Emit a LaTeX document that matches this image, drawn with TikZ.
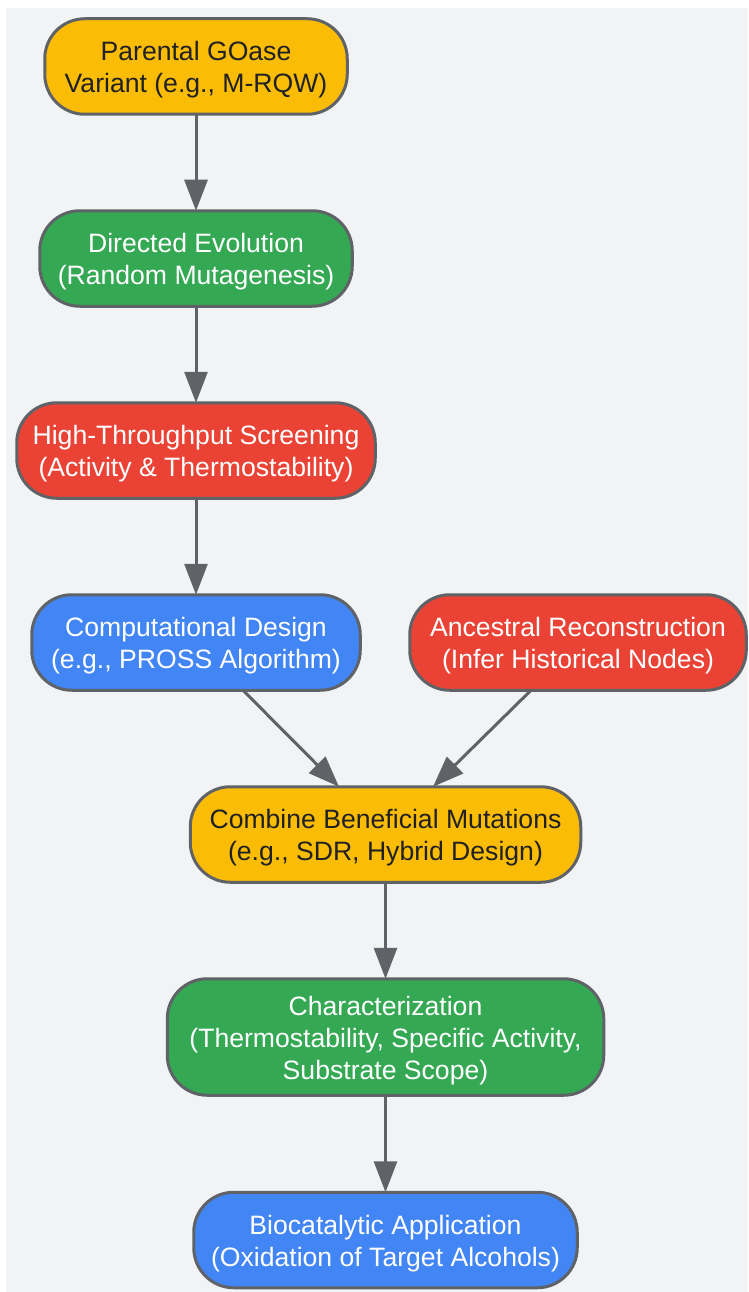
\documentclass[tikz,border=0pt]{standalone}
\usepackage{fontspec}
\setmainfont{Liberation Sans}
\usetikzlibrary{arrows.meta,calc}
\definecolor{bgc}{HTML}{F1F3F5}
\definecolor{linec}{HTML}{5F6368}
\definecolor{inkc}{HTML}{202124}
\definecolor{gold}{HTML}{FBBC05}
\definecolor{grn}{HTML}{34A853}
\definecolor{redc}{HTML}{EA4335}
\definecolor{blu}{HTML}{4285F4}
\newcommand{\toprule}{\rule{0pt}{25pt}}
\newcommand{\toprulec}{\rule{0pt}{27pt}}
\tikzset{
  box/.style={draw=linec,line width=3pt,rounded corners=40pt,inner sep=0pt,outer sep=0pt,
    align=center,font=\fontsize{26.6}{32}\selectfont,minimum height=95.5pt},
  goldbox/.style={box,fill=gold,text=inkc},
  grnbox/.style={box,fill=grn,text=white},
  redbox/.style={box,fill=redc,text=white},
  blubox/.style={box,fill=blu,text=white},
  conn/.style={draw=linec,line width=3pt,-{Triangle[length=31pt,width=23pt,color=linec]}}
}
\begin{document}
\begin{tikzpicture}[x=1pt,y=-1pt]
\useasboundingbox (0,0) rectangle (748,1292);
\fill[bgc] (6,8) rectangle (748,1292);
\node[goldbox,minimum width=302.5pt] (a) at (196,66.5) {\toprule Parental GOase\\Variant (e.g., M-RQW)};
\node[grnbox,minimum width=312.5pt] (b) at (196,258.5) {\toprule Directed Evolution\\(Random Mutagenesis)};
\node[redbox,minimum width=358.5pt] (c) at (196,450.5) {\toprule High-Throughput Screening\\(Activity \& Thermostability)};
\node[blubox,minimum width=328.5pt] (d) at (196,642.5) {\toprule Computational Design\\(e.g., PROSS Algorithm)};
\node[redbox,minimum width=336.5pt] (e) at (578,642.5) {\toprule Ancestral Reconstruction\\(Infer Historical Nodes)};
\node[goldbox,minimum width=390.5pt] (f) at (385.5,834.5) {\toprule Combine Beneficial Mutations\\(e.g., SDR, Hybrid Design)};
\node[grnbox,minimum width=436.5pt,minimum height=116.5pt] (g) at (385.5,1037) {\toprulec Characterization\\(Thermostability, Specific Activity,\\Substrate Scope)};
\node[blubox,minimum width=383.5pt] (h) at (385.5,1240) {\toprulec Biocatalytic Application\\(Oxidation of Target Alcohols)};
\draw[conn] (a) -- (b);
\draw[conn] (b) -- (c);
\draw[conn] (c) -- (d);
\draw[conn] ($(d.south)+(47,0)$) -- ($(f.north)+(-46.5,0)$);
\draw[conn] ($(e.south)+(-47,0)$) -- ($(f.north)+(47.5,0)$);
\draw[conn] (f) -- (g);
\draw[conn] (g) -- (h);
\end{tikzpicture}
\end{document}
